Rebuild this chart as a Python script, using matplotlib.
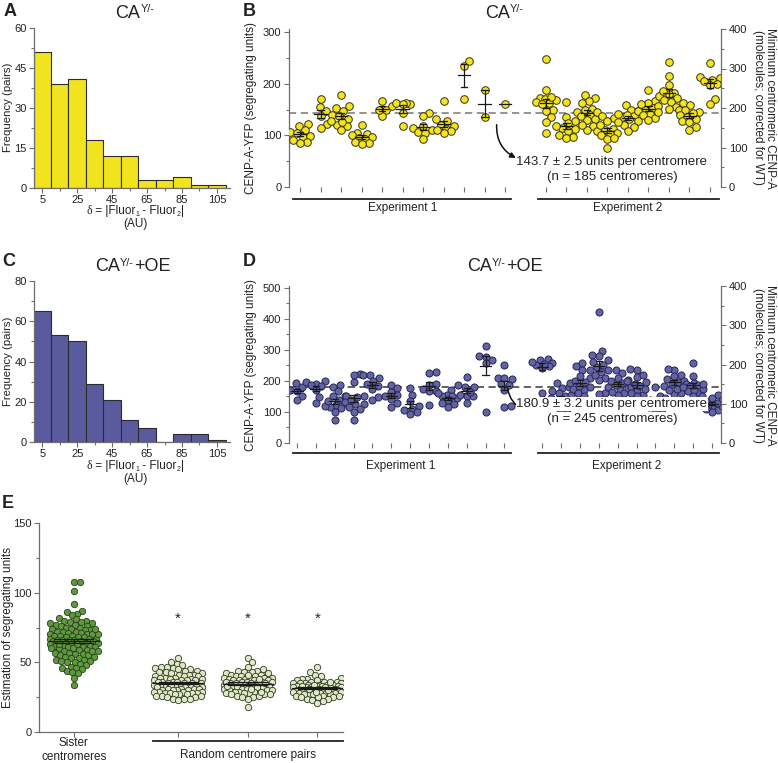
import numpy as np
import matplotlib
matplotlib.use('Agg')
import matplotlib.pyplot as plt
from matplotlib.transforms import blended_transform_factory

plt.rcParams['font.family'] = ['Liberation Sans', 'DejaVu Sans']

# ---------------- data ----------------
bin_centers = [5, 15, 25, 35, 45, 55, 65, 75, 85, 95, 105]
hist_A = [51, 39, 41, 18, 12, 12, 3, 3, 4, 1, 1]
hist_C = [65, 53, 50, 29, 21, 11, 7, 0, 4, 4, 1]
hist_ticks = [5, 25, 45, 65, 85, 105]

# panel B, CA Y/- (segregating units per centromere)
b_exp1 = [
    [118, 122, 107, 110, 97, 99, 88, 86, 91, 104],
    [155, 170, 148, 138, 122, 115],
    [179, 156, 153, 148, 140, 137, 132, 121, 118, 110, 125, 128],
    [120, 105, 103, 100, 97, 95, 92, 88, 86, 84],
    [149, 156, 167, 137, 150],
    [162, 161, 163, 160, 143, 119],
    [144, 137, 115, 110, 107, 105, 92, 118],
    [166, 131, 127, 120, 118, 113, 108, 105, 110],
    [234, 244, 170],
    [188, 135],
    [161],
]
b_exp2 = [
    [248, 188, 172, 170, 168, 165, 162, 160, 150, 148, 136, 126, 105, 175],
    [165, 136, 127, 123, 115, 112, 108, 100, 97, 95, 118],
    [178, 172, 166, 162, 150, 152, 146, 140, 137, 131, 129, 118, 110, 145, 120],
    [137, 133, 127, 113, 111, 109, 104, 102, 100, 92, 76, 120, 95],
    [159, 147, 149, 138, 136, 131, 127, 120, 116, 108, 142, 140, 125],
    [188, 166, 163, 153, 156, 150, 148, 142, 139, 133, 130, 160, 145],
    [242, 215, 197, 182, 180, 176, 172, 168, 165, 155, 152, 185],
    [162, 159, 150, 146, 149, 140, 136, 131, 127, 117, 111, 125, 144],
    [241, 213, 211, 208, 205, 200, 197, 170, 160],
]
b_mean = 143.7

# panel D, CA Y/- + OE
d_exp1 = [
    [192, 166, 153, 172, 180, 140],
    [201, 195, 190, 186, 184, 171, 148, 130],
    [187, 182, 166, 153, 150, 140, 128, 123, 117, 112, 101, 119, 74, 135],
    [223, 219, 195, 150, 147, 150, 133, 126, 126, 117, 110, 101, 74, 140],
    [220, 218, 209, 184, 190, 148, 137, 200, 175],
    [187, 176, 142, 117, 155, 150, 165, 130],
    [176, 155, 120, 110, 100, 105, 95, 135],
    [230, 227, 187, 173, 166, 168, 123, 190],
    [171, 155, 150, 139, 128, 126, 117, 145, 150, 160],
    [212, 187, 180, 182, 155, 150, 152, 128, 165],
    [313, 281, 268, 278, 257, 100],
    [252, 209, 209, 190, 187, 171, 117, 205, 120],
]
d_exp2 = [
    [270, 266, 257, 252, 241, 262, 248, 160, 255],
    [193, 182, 178, 166, 160, 150, 144, 134, 123, 117, 110, 100, 130, 140, 155],
    [257, 248, 236, 216, 209, 182, 193, 171, 133, 195, 185, 175, 200, 160, 150],
    [422, 298, 284, 279, 268, 262, 252, 245, 236, 236, 228, 209, 203, 160, 158, 220],
    [236, 227, 210, 203, 193, 182, 171, 160, 155, 200, 188, 178, 165],
    [236, 238, 214, 220, 198, 200, 182, 171, 160, 155, 150, 128, 190, 185, 175],
    [182, 150, 144, 134, 130, 120, 117, 110, 105, 125, 140, 128, 115],
    [236, 238, 220, 215, 198, 182, 185, 160, 158, 175, 200, 170, 190, 205],
    [259, 216, 193, 190, 187, 185, 166, 160, 170, 151, 175, 190, 180],
    [150, 155, 140, 135, 125, 120, 112, 105, 118, 130, 100, 110, 145],
]
d_mean = 180.9

# panel E, estimation of segregating units
e_sister = [108, 108, 101, 92, 87, 86, 85, 84, 82, 81, 80, 80, 79, 79, 78, 78,
            77, 77, 76, 76, 75, 75, 74, 74, 73, 73, 72, 72, 72, 71, 71, 70, 70,
            70, 69, 69, 69, 68, 68, 68, 67, 67, 67, 66, 66, 66, 65, 65, 65, 64,
            64, 64, 63, 63, 63, 62, 62, 62, 61, 61, 61, 60, 60, 60, 59, 59, 58,
            58, 57, 57, 56, 56, 55, 55, 54, 54, 53, 53, 52, 52, 51, 51, 50, 50,
            49, 48, 47, 46, 46, 45, 44, 43, 42, 39, 34, 66, 63, 70, 58, 74]
e_rand1 = [53, 50, 49, 48, 47, 47, 46, 46, 45, 45, 44, 44, 43, 43, 42, 42, 41,
           41, 41, 40, 40, 40, 39, 39, 39, 38, 38, 38, 37, 37, 37, 37, 36, 36,
           36, 36, 35, 35, 35, 35, 34, 34, 34, 34, 33, 33, 33, 33, 32, 32, 32,
           32, 31, 31, 31, 31, 30, 30, 30, 30, 29, 29, 29, 29, 28, 28, 28, 28,
           27, 27, 27, 26, 26, 26, 25, 25, 24, 24, 24, 23]
e_rand2 = [53, 50, 47, 45, 44, 44, 43, 43, 42, 42, 41, 41, 40, 40, 40, 39, 39,
           39, 38, 38, 38, 37, 37, 37, 37, 36, 36, 36, 36, 35, 35, 35, 35, 34,
           34, 34, 34, 33, 33, 33, 33, 32, 32, 32, 31, 31, 31, 30, 30, 30, 29,
           29, 29, 28, 28, 28, 27, 27, 26, 26, 25, 25, 24, 18, 36, 38, 33, 41,
           29, 31, 35, 27]
e_rand3 = [47, 43, 41, 40, 39, 38, 38, 37, 37, 36, 36, 36, 35, 35, 35, 35, 34,
           34, 34, 34, 33, 33, 33, 33, 33, 32, 32, 32, 32, 32, 31, 31, 31, 31,
           30, 30, 30, 30, 30, 29, 29, 29, 29, 28, 28, 28, 28, 27, 27, 27, 26,
           26, 26, 25, 25, 24, 24, 23, 22, 21, 34, 31, 29, 36, 27, 33, 30, 25]

W, H = 778, 763
fig = plt.figure(figsize=(W / 100, H / 100), dpi=100)
fig.patch.set_facecolor('white')
renderer = fig.canvas.get_renderer()

SP = '#6e6e6e'
TXT = '#222222'


def box(x0, y0, x1, y1):
    return [x0 / W, 1 - y1 / H, (x1 - x0) / W, (y1 - y0) / H]


def ftext(x, y, s, **kw):
    kw.setdefault('ha', 'center')
    kw.setdefault('va', 'center')
    kw.setdefault('color', TXT)
    return fig.text(x / W, 1 - y / H, s, **kw)


def rich(xc, base, parts, size):
    # parts: (text, size factor, raise in px, family or None)
    arts, total = [], 0.0
    for s, f, dy, fam in parts:
        kw = dict(fontsize=size * f, ha='left', va='baseline', color=TXT)
        if fam:
            kw['family'] = fam
        t = fig.text(0, 0, s, **kw)
        w = t.get_window_extent(renderer).width
        arts.append((t, w, dy))
        total += w
    x = xc - total / 2
    for t, w, dy in arts:
        t.set_position((x / W, 1 - (base - dy) / H))
        x += w


def title_ca(xc, base, oe=False):
    parts = [('CA', 1, 0, None), ('Y/-', 0.6, 5.5, None)]
    if oe:
        parts.append(('+OE', 1, 0, None))
    rich(xc, base, parts, 13)


def delta_label(xc, base):
    rich(xc, base, [('\u03b4', 1, 0, 'Liberation Serif'),
                    (' = |Fluor', 1, 0, None), ('1', 0.6, -2, None),
                    (' - Fluor', 1, 0, None), ('2', 0.6, -2, None),
                    ('|', 1, 0, None)], 8.5)


def style(ax, left=True, bottom=True, right=False):
    for k in ax.spines:
        ax.spines[k].set_visible(False)
    ax.spines['left'].set_visible(left)
    ax.spines['bottom'].set_visible(bottom)
    ax.spines['right'].set_visible(right)
    for k in ax.spines:
        ax.spines[k].set_color(SP)
        ax.spines[k].set_linewidth(0.9)
    ax.tick_params(which='both', direction='out', color=SP, width=0.8,
                   labelsize=8, labelcolor=TXT, pad=2)
    ax.tick_params(which='major', length=3.5)
    ax.tick_params(which='minor', length=2.5)
    ax.set_facecolor('none')


def beeswarm(ax, vals, pos, d, half):
    t = ax.transData
    x0, y0 = t.transform((0, 0))
    x1, y1 = t.transform((1, 1))
    sx, sy = x1 - x0, y1 - y0
    ys = np.asarray(vals, float) * sy
    cands = [0.0]
    for o in np.arange(0.5, half + 0.01, 0.5):
        cands += [o, -o]
    xs = np.zeros(len(ys))
    px, py = [], []
    for i in np.argsort(ys):
        best, bestd = 0.0, -1.0
        for c in cands:
            if px:
                dist = np.min(np.hypot(c - np.array(px), ys[i] - np.array(py)))
            else:
                dist = np.inf
            if dist >= d:
                best = c
                break
            if dist > bestd:
                best, bestd = c, dist
        xs[i] = best
        px.append(best)
        py.append(ys[i])
    return pos + xs / sx


def mean_sem(ax, vals, pos, hw, cw):
    v = np.asarray(vals, float)
    m = v.mean()
    ax.plot([pos - hw, pos + hw], [m, m], color='#1a1a1a', lw=0.9, zorder=6)
    if len(v) > 1:
        s = v.std(ddof=1) / np.sqrt(len(v))
        ax.plot([pos, pos], [m - s, m + s], color='#1a1a1a', lw=0.9, zorder=6)
        for e in (m - s, m + s):
            ax.plot([pos - cw, pos + cw], [e, e], color='#1a1a1a', lw=0.9,
                    zorder=6)


def hist_panel(rect, vals, color, ymax, ystep):
    ax = fig.add_axes(rect)
    ax.bar(bin_centers, vals, width=10, color=color, edgecolor='#2b2b2b',
           linewidth=0.8, zorder=2)
    ax.set_xlim(0, 112.5)
    ax.set_ylim(0, ymax)
    ax.set_xticks(hist_ticks)
    ax.set_xticks(bin_centers, minor=True)
    ax.set_yticks(np.arange(0, ymax + 1, ystep))
    ax.set_yticks(np.arange(ystep / 2, ymax, ystep), minor=True)
    style(ax)
    ax.tick_params(axis='x', pad=1.5)
    ax.tick_params(axis='y', pad=1.5)
    return ax


# ---------------- panel A ----------------
hist_panel(box(33.5, 28, 230, 188), hist_A, '#f1e31d', 60, 15)
ftext(4, 11, 'A', fontsize=13, fontweight='bold', ha='left')
title_ca(135, 18)
ftext(8, 107, 'Frequency (pairs)', fontsize=8.2, rotation=90)
delta_label(135, 214)
ftext(135, 224, '(AU)', fontsize=8.5)

# ---------------- panel C ----------------
hist_panel(box(33.5, 281, 230, 442), hist_C, '#5a5b9f', 80, 20)
ftext(2, 262, 'C', fontsize=13, fontweight='bold', ha='left')
title_ca(133, 271, oe=True)
ftext(8, 361, 'Frequency (pairs)', fontsize=8.2, rotation=90)
delta_label(135, 469)
ftext(135, 479, '(AU)', fontsize=8.5)


# ---------------- panels B and D ----------------
def scatter_panel(rect, exp1, exp2, xlim, ylim, yright, ystep, color, edge,
                  refmean, dash_color, ms, d, line_y, lab_y, lims1, lims2):
    ax = fig.add_axes(rect)
    ax.set_xlim(*xlim)
    ax.set_ylim(*ylim)
    pos1 = list(range(len(exp1)))
    pos2 = list(range(len(exp1) + 1, len(exp1) + 1 + len(exp2)))
    ax.axhline(refmean, color=dash_color, ls=(0, (4, 2.5)), lw=1.3, zorder=1)
    for p, g in zip(pos1 + pos2, exp1 + exp2):
        xs = beeswarm(ax, g, p, d, 10)
        ax.scatter(xs, g, s=ms, color=color, edgecolor=edge, linewidth=0.7,
                   zorder=3)
        mean_sem(ax, g, p, 0.3, 0.17)
    ax.set_xticks(pos1 + pos2)
    ax.set_xticklabels([])
    ax.set_yticks(np.arange(0, ylim[1], ystep))
    ax.set_yticks(np.arange(ystep / 2, ylim[1], ystep), minor=True)
    style(ax, bottom=False)
    axr = ax.twinx()
    axr.set_ylim(0, yright)
    axr.set_yticks([0, 100, 200, 300, 400])
    axr.set_yticks([50, 150, 250, 350], minor=True)
    style(axr, left=False, bottom=False, right=True)
    tr = blended_transform_factory(ax.transData, fig.transFigure)
    for (a, b), pp, name in ((lims1, pos1, 'Experiment 1'),
                             (lims2, pos2, 'Experiment 2')):
        ax.plot([a, b], [1 - line_y / H] * 2, color='#222222', lw=1.3,
                transform=tr, clip_on=False)
        ax.text(np.mean(pp), 1 - lab_y / H, name, transform=tr, ha='center',
                va='center', fontsize=8.5, color=TXT)
    return ax


axB = scatter_panel(box(289, 29, 721, 187), b_exp1, b_exp2, (-0.537, 20.537),
                    (0, 306), 400, 100, '#f4e41c', '#33331a', b_mean, '#8a8a8a',
                    30, 7.0, 199, 208, (-0.35, 10.3), (11.6, 20.44))
ftext(243, 11, 'B', fontsize=13, fontweight='bold', ha='left')
title_ca(504, 18)
ftext(251, 108, 'CENP-A-YFP (segregating units)', fontsize=8.5, rotation=90)
ftext(770, 108, 'Minimum centromeric CENP-A', fontsize=8.5, rotation=270)
ftext(758, 108, '(molecules; corrected for WT)', fontsize=8.5, rotation=270)
axB.annotate('', xy=(10.65, 54), xytext=(9.6, 126),
             arrowprops=dict(arrowstyle='-|>', connectionstyle='arc3,rad=0.35',
                             color='#111111', lw=1.1, mutation_scale=8))
ftext(612, 162, '143.7 \u00b1 2.5 units per centromere', fontsize=9.5)
ftext(612, 177, '(n = 185 centromeres)', fontsize=9.5)

axD = scatter_panel(box(289, 286, 721, 443), d_exp1, d_exp2, (-0.424, 22.48),
                    (0, 506), 400, 100, '#6364a6', '#262650', d_mean, '#555555',
                    26, 6.5, 453, 466, (-0.2, 11.35), (12.78, 22.4))
ftext(243, 261, 'D', fontsize=13, fontweight='bold', ha='left')
title_ca(505, 271, oe=True)
ftext(251, 365, 'CENP-A-YFP (segregating units)', fontsize=8.5, rotation=90)
ftext(770, 365, 'Minimum centromeric CENP-A', fontsize=8.5, rotation=270)
ftext(758, 365, '(molecules; corrected for WT)', fontsize=8.5, rotation=270)
axD.annotate('', xy=(12.25, 105), xytext=(11.15, 185),
             arrowprops=dict(arrowstyle='-|>', connectionstyle='arc3,rad=0.35',
                             color='#111111', lw=1.1, mutation_scale=8))
wb = dict(facecolor='white', edgecolor='none', pad=0.5)
ftext(612, 404, '180.9 \u00b1 3.2 units per centromere', fontsize=9.5, bbox=wb,
      zorder=10)
ftext(612, 419, '(n = 245 centromeres)', fontsize=9.5, bbox=wb, zorder=10)

# ---------------- panel E ----------------
axE = fig.add_axes(box(39, 523, 343, 732))
axE.set_xlim(-0.5, 3.87)
axE.set_ylim(0, 150)
e_groups = [e_sister, e_rand1, e_rand2, e_rand3]
e_pos = [0, 1.5, 2.5, 3.5]
e_cols = ['#5c9a3c', '#dfe8c6', '#dfe8c6', '#dfe8c6']
for p, g, c in zip(e_pos, e_groups, e_cols):
    xs = beeswarm(axE, g, p, 5.6, 24)
    axE.scatter(xs, g, s=21, color=c, edgecolor='#2e3a22', linewidth=0.6,
                zorder=3)
    mean_sem(axE, g, p, 0.36, 0.28)
for p in e_pos[1:]:
    axE.text(p, 81, '*', ha='center', va='center', fontsize=11, color=TXT)
axE.set_xticks(e_pos)
axE.set_xticklabels([])
axE.set_yticks([0, 50, 100, 150])
axE.set_yticks([25, 75, 125], minor=True)
style(axE)
trE = blended_transform_factory(axE.transData, fig.transFigure)
axE.plot([1.14, 3.87], [1 - 741 / H] * 2, color='#222222', lw=1.3,
         transform=trE, clip_on=False)
axE.text(0, 1 - 743 / H, 'Sister', transform=trE, ha='center', va='center',
         fontsize=8.5, color=TXT)
axE.text(0, 1 - 757 / H, 'centromeres', transform=trE, ha='center',
         va='center', fontsize=8.5, color=TXT)
axE.text(2.5, 1 - 755 / H, 'Random centromere pairs', transform=trE,
         ha='center', va='center', fontsize=8.5, color=TXT)
ftext(2, 503, 'E', fontsize=13, fontweight='bold', ha='left')
ftext(8, 627, 'Estimation of segregating units', fontsize=8.5, rotation=90)

fig.savefig('out.png', dpi=100, facecolor='white')
